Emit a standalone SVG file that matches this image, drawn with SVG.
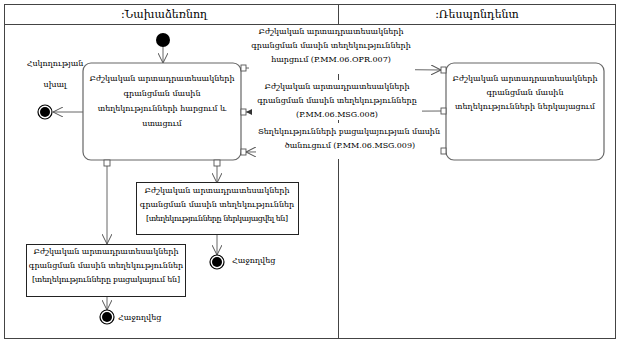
<svg xmlns="http://www.w3.org/2000/svg" width="621" height="343" viewBox="0 0 621 343">
<style>
text{font-family:"DejaVu Serif","Liberation Serif",serif;font-size:8px;fill:#000;text-anchor:middle}
.hdr{font-size:11px}
.lane{fill:none;stroke:#444;stroke-width:1}
.act{fill:#fff;stroke:#666;stroke-width:1.2}
.obj{fill:#fff;stroke:#222;stroke-width:1}
.pin{fill:#fff;stroke:#555;stroke-width:0.9}
.edge{fill:none;stroke:#666;stroke-width:1}
.lbg{fill:#fff;stroke:none}
</style>
<defs>
<marker id="open" markerWidth="12" markerHeight="10" refX="10" refY="5" orient="auto" markerUnits="userSpaceOnUse">
<path d="M0,0 L10,5 L0,10" fill="none" stroke="#555" stroke-width="1"/>
</marker>
<marker id="fill" markerWidth="8" markerHeight="8" refX="6" refY="4" orient="auto" markerUnits="userSpaceOnUse">
<path d="M0,1 L6,4 L0,7 z" fill="#333"/>
</marker>
</defs>
<rect width="621" height="343" fill="#fff"/>
<g id="lanes">
<rect class="lane" x="4.5" y="4.5" width="611" height="334"/>
<line class="lane" x1="4.5" y1="24.5" x2="615.5" y2="24.5"/>
<line class="lane" x1="338.5" y1="4.5" x2="338.5" y2="338.5"/>
<text class="hdr" x="164" y="18">:Նախաձեռնող</text>
<text class="hdr" x="477" y="18">:Ռեսպոնդենտ</text>
</g>
<g id="connectors">
<line class="edge" x1="163" y1="47" x2="163" y2="63" marker-end="url(#open)"/>
<line class="edge" x1="83" y1="112" x2="53" y2="112" marker-end="url(#open)"/>
<line class="edge" x1="246" y1="68" x2="441" y2="70" marker-end="url(#open)"/>
<line class="edge" x1="441" y1="111" x2="246" y2="112" marker-end="url(#fill)"/>
<line class="edge" x1="441" y1="151" x2="246" y2="152" marker-end="url(#open)"/>
<line class="edge" x1="217" y1="166" x2="217" y2="183" marker-end="url(#open)"/>
<line class="edge" x1="107" y1="166" x2="107" y2="244" marker-end="url(#open)"/>
<line class="edge" x1="217" y1="234" x2="217" y2="255" marker-end="url(#open)"/>
<line class="edge" x1="107" y1="296" x2="107" y2="310" marker-end="url(#open)"/>
</g>
<g id="msg1">
<rect class="lbg" x="249" y="25" width="166" height="49"/>
<text x="331" y="34">Բժշկական արտադրատեսակների</text>
<text x="331" y="48">գրանցման մասին տեղեկությունների</text>
<text x="331" y="62">հարցում (P.MM.06.OPR.007)</text>
</g>
<g id="msg2">
<rect class="lbg" x="252" y="80" width="170" height="40"/>
<text x="337" y="89">Բժշկական արտադրատեսակների</text>
<text x="337" y="103">գրանցման մասին տեղեկությունները</text>
<text x="337" y="117">(P.MM.06.MSG.008)</text>
</g>
<g id="msg3">
<rect class="lbg" x="256" y="123" width="188" height="36"/>
<text x="349" y="134" textLength="182">Տեղեկությունների բացակայության մասին</text>
<text x="350" y="148">ծանուցում (P.MM.06.MSG.009)</text>
</g>
<g id="initial">
<circle cx="163" cy="40" r="7" fill="#000"/>
</g>
<g id="errorEnd">
<circle cx="45" cy="112" r="7" fill="#fff" stroke="#000" stroke-width="1.2"/>
<circle cx="45" cy="112" r="5" fill="#000"/>
<text x="55" y="66">Հսկողության</text>
<text x="55" y="87">սխալ</text>
</g>
<g id="requestAction">
<rect class="act" x="83" y="63" width="158" height="97" rx="8"/>
<text x="162" y="81">Բժշկական արտադրատեսակների</text>
<text x="162" y="96">գրանցման մասին</text>
<text x="162" y="111">տեղեկությունների հարցում և</text>
<text x="162" y="126">ստացում</text>
<rect class="pin" x="241" y="65" width="5" height="6"/>
<rect class="pin" x="241" y="109" width="5" height="6"/>
<rect class="pin" x="241" y="149" width="5" height="6"/>
<rect class="pin" x="104" y="160" width="6" height="6"/>
<rect class="pin" x="214" y="160" width="6" height="6"/>
</g>
<g id="provideAction">
<rect class="act" x="446" y="63" width="158" height="97" rx="8"/>
<text x="525" y="81">Բժշկական արտադրատեսակների</text>
<text x="525" y="95">գրանցման մասին</text>
<text x="525" y="109">տեղեկությունների ներկայացում</text>
<rect class="pin" x="441" y="67" width="5" height="6"/>
<rect class="pin" x="441" y="108" width="5" height="6"/>
<rect class="pin" x="441" y="148" width="5" height="6"/>
</g>
<g id="objProvided">
<rect class="obj" x="136.5" y="182.5" width="162" height="52"/>
<text x="217" y="193">Բժշկական արտադրատեսակների</text>
<text x="217" y="207">գրանցման մասին տեղեկություններ</text>
<text x="217" y="221" textLength="142">[տեղեկությունները ներկայացվել են]</text>
</g>
<g id="objAbsent">
<rect class="obj" x="26.5" y="244.5" width="159" height="52"/>
<text x="106" y="254">Բժշկական արտադրատեսակների</text>
<text x="106" y="268">գրանցման մասին տեղեկություններ</text>
<text x="106" y="282" textLength="148">[տեղեկությունները բացակայում են]</text>
</g>
<g id="end1">
<circle cx="217" cy="262" r="7" fill="#fff" stroke="#000" stroke-width="1.2"/>
<circle cx="217" cy="262" r="5" fill="#000"/>
<text x="232" y="263" style="text-anchor:start">Հաջողվեց</text>
</g>
<g id="end2">
<circle cx="107" cy="317" r="7" fill="#fff" stroke="#000" stroke-width="1.2"/>
<circle cx="107" cy="317" r="5" fill="#000"/>
<text x="118" y="320" style="text-anchor:start">Հաջողվեց</text>
</g>
</svg>
